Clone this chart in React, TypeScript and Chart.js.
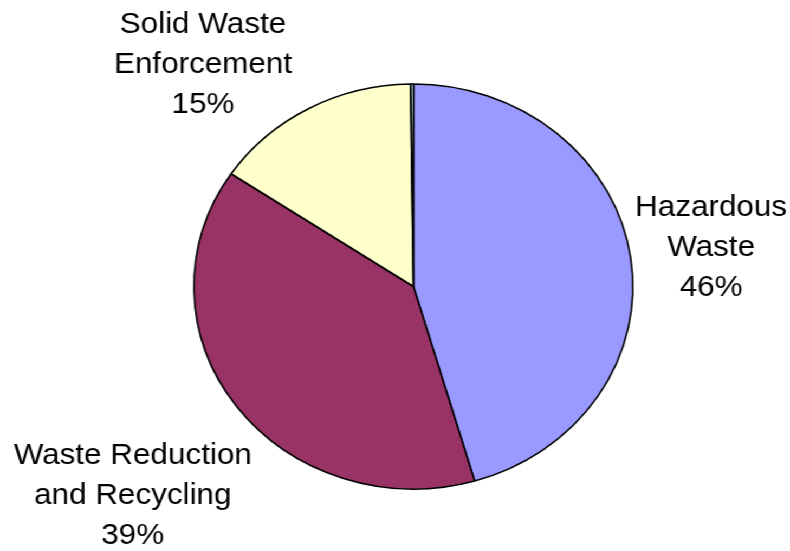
import { useEffect, useRef } from "react";
import { Chart, registerables } from "chart.js";

Chart.register(...registerables);

// ---- data ----
const categories = [
  "Hazardous Waste",
  "Waste Reduction and Recycling",
  "Solid Waste Enforcement",
  "Other",
];
const labelLines = [
  ["Hazardous", "Waste"],
  ["Waste Reduction", "and Recycling"],
  ["Solid Waste", "Enforcement"],
  [],
];
const values = [45.5, 38.9, 15.4, 0.2];
const colors = ["#9999FF", "#993366", "#FFFFCC", "#CCFFFF"];

// ---- layout (not data) ----
const CANVAS_W = 729;
const CANVAS_H = 551;
const STRETCH_X = 790 / CANVAS_W;
const LABEL_DIST = 75;
const LABEL_NUDGE = [
  [0, 1],
  [-35, 46],
  [-62, 23],
  [0, 0],
];

const outsideLabels = {
  id: "outsideLabels",
  afterDatasetsDraw(chart: any) {
    const ctx = chart.ctx;
    const meta = chart.getDatasetMeta(0);
    const data = chart.data.datasets[0].data as number[];
    const total = data.reduce((a, b) => a + b, 0);
    ctx.save();
    ctx.fillStyle = "#000";
    ctx.font = '29px "Liberation Sans", Arial, sans-serif';
    ctx.textAlign = "center";
    ctx.textBaseline = "middle";
    meta.data.forEach((arc: any, i: number) => {
      const lines = labelLines[i];
      if (!lines || lines.length === 0) return;
      const p = arc.getProps(["x", "y", "startAngle", "endAngle", "outerRadius"], true);
      const mid = (p.startAngle + p.endAngle) / 2;
      const r = p.outerRadius + LABEL_DIST;
      const cx = p.x + Math.cos(mid) * r + LABEL_NUDGE[i][0];
      const cy = p.y + Math.sin(mid) * r + LABEL_NUDGE[i][1];
      const pct = Math.round((data[i] * 100) / total + 1e-6);
      const all = [...lines, pct + "%"];
      const midIdx = (all.length - 1) / 2;
      all.forEach((t, j) => {
        ctx.fillText(t, cx, cy + (j - midIdx) * 40);
      });
    });
    ctx.restore();
  },
};

export default function App() {
  const ref = useRef<HTMLCanvasElement | null>(null);
  useEffect(() => {
    if (!ref.current) return;
    const chart = new Chart(ref.current, {
      type: "pie",
      data: {
        labels: categories,
        datasets: [
          {
            data: values,
            backgroundColor: colors,
            borderColor: "#000000",
            borderWidth: 1.6,
          },
        ],
      },
      options: {
        responsive: false,
        animation: false,
        radius: 202.5,
        layout: { padding: { left: 34, right: 0, top: 22, bottom: 0 } },
        plugins: {
          legend: { display: false },
          tooltip: { enabled: false },
        },
      } as any,
      plugins: [outsideLabels],
    });
    return () => chart.destroy();
  }, []);
  return (
    <div
      style={{
        position: "fixed",
        left: 0,
        top: 0,
        width: CANVAS_W,
        height: CANVAS_H,
        transform: `scaleX(${STRETCH_X})`,
        transformOrigin: "0 0",
        background: "#fff",
      }}
    >
      <canvas
        ref={ref}
        width={CANVAS_W}
        height={CANVAS_H}
        style={{ display: "block", width: CANVAS_W, height: CANVAS_H }}
      />
    </div>
  );
}
